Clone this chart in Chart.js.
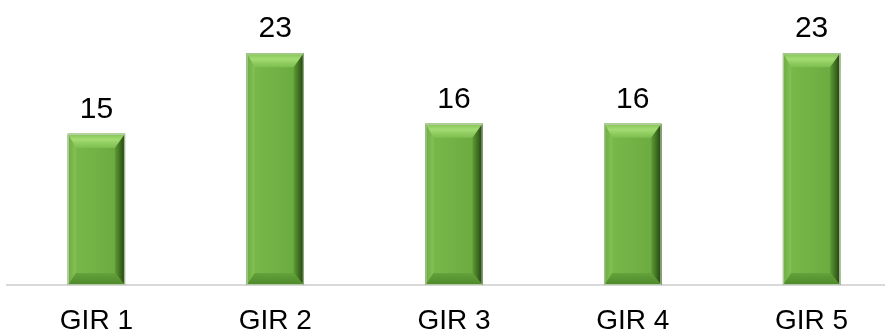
<!DOCTYPE html>
<html>
<head>
<meta charset="utf-8">
<script src="https://cdn.jsdelivr.net/npm/chart.js@4/dist/chart.umd.min.js"></script>
<style>
  html, body { margin: 0; padding: 0; background: #ffffff; overflow: hidden; }
  #wrap { width: 901px; height: 333px; }
</style>
</head>
<body>
<div id="wrap"><canvas id="girChart" width="901" height="333"></canvas></div>
<script>
var categories = ['GIR 1', 'GIR 2', 'GIR 3', 'GIR 4', 'GIR 5']; // GIR groups
var counts = [15, 23, 16, 16, 23]; // value per group

var FONT = '"Liberation Sans", Arial, sans-serif';

/**
 * Paints a bevelled face over each bar and writes its value above it.
 */
var bevelBars = {
    id: 'bevelBars',
    afterDatasetsDraw: function(chart) {
        var ctx = chart.ctx;
        var meta = chart.getDatasetMeta(0);
        meta.data.forEach(function(bar, i) {
            var L = bar.x - bar.width / 2, R = bar.x + bar.width / 2;
            var T = bar.y, B = bar.base;
            var dt = 14, db = 12, dl = 8, dr = 10;
            var g;
            ctx.save();

            // front face
            g = ctx.createLinearGradient(L, 0, R, 0);
            g.addColorStop(0, '#7aba4c');
            g.addColorStop(1, '#69a83e');
            ctx.fillStyle = g;
            ctx.fillRect(L, T, R - L, B - T);

            // top facet
            g = ctx.createLinearGradient(0, T, 0, T + dt);
            g.addColorStop(0, '#84c455');
            g.addColorStop(0.4, '#a2db72');
            g.addColorStop(1, '#7dbd4e');
            ctx.fillStyle = g;
            ctx.beginPath();
            ctx.moveTo(L, T); ctx.lineTo(R, T);
            ctx.lineTo(R - dr, T + dt); ctx.lineTo(L + dl, T + dt);
            ctx.closePath(); ctx.fill();

            // left facet
            g = ctx.createLinearGradient(L, 0, L + dl, 0);
            g.addColorStop(0, '#6dab41');
            g.addColorStop(1, '#83c255');
            ctx.fillStyle = g;
            ctx.beginPath();
            ctx.moveTo(L, T); ctx.lineTo(L + dl, T + dt);
            ctx.lineTo(L + dl, B - db); ctx.lineTo(L, B);
            ctx.closePath(); ctx.fill();

            // right facet
            g = ctx.createLinearGradient(R - dr, 0, R, 0);
            g.addColorStop(0, '#5e9b35');
            g.addColorStop(0.6, '#3a681e');
            g.addColorStop(1, '#223c11');
            ctx.fillStyle = g;
            ctx.beginPath();
            ctx.moveTo(R, T); ctx.lineTo(R, B);
            ctx.lineTo(R - dr, B - db); ctx.lineTo(R - dr, T + dt);
            ctx.closePath(); ctx.fill();

            // bottom facet
            g = ctx.createLinearGradient(0, B - db, 0, B);
            g.addColorStop(0, '#64a23b');
            g.addColorStop(1, '#4e892a');
            ctx.fillStyle = g;
            ctx.beginPath();
            ctx.moveTo(L, B); ctx.lineTo(R, B);
            ctx.lineTo(R - dr, B - db); ctx.lineTo(L + dl, B - db);
            ctx.closePath(); ctx.fill();

            // thin outline
            ctx.strokeStyle = 'rgba(190,205,180,0.9)';
            ctx.lineWidth = 1;
            ctx.strokeRect(L + 0.5, T + 0.5, R - L - 1, B - T - 1);

            // value label
            ctx.fillStyle = '#000000';
            ctx.font = '30px ' + FONT;
            ctx.textAlign = 'center';
            ctx.textBaseline = 'alphabetic';
            ctx.fillText(String(counts[i]), bar.x, T - 16);
            ctx.restore();
        });
    }
};

var ctx = document.getElementById('girChart').getContext('2d');
var girChart = new Chart(ctx, {
    type: 'bar',
    data: {
        labels: categories,
        datasets: [{
            data: counts,
            backgroundColor: '#70ad47',
            borderWidth: 0,
            barThickness: 57
        }]
    },
    options: {
        responsive: false,
        animation: false,
        events: [],
        layout: { padding: { left: 7, right: 0, top: 1, bottom: 0 } },
        plugins: {
            legend: { display: false },
            tooltip: { enabled: false }
        },
        scales: {
            x: {
                grid: { display: false, drawTicks: false },
                border: { display: true, color: '#d9d9d9', width: 2 },
                ticks: {
                    color: '#000000',
                    padding: 19,
                    font: { family: FONT, size: 28 }
                },
                afterFit: function(scale) { scale.height = 48; }
            },
            y: {
                display: false,
                min: 0,
                max: 28.2
            }
        }
    },
    plugins: [bevelBars]
});
</script>
</body>
</html>
